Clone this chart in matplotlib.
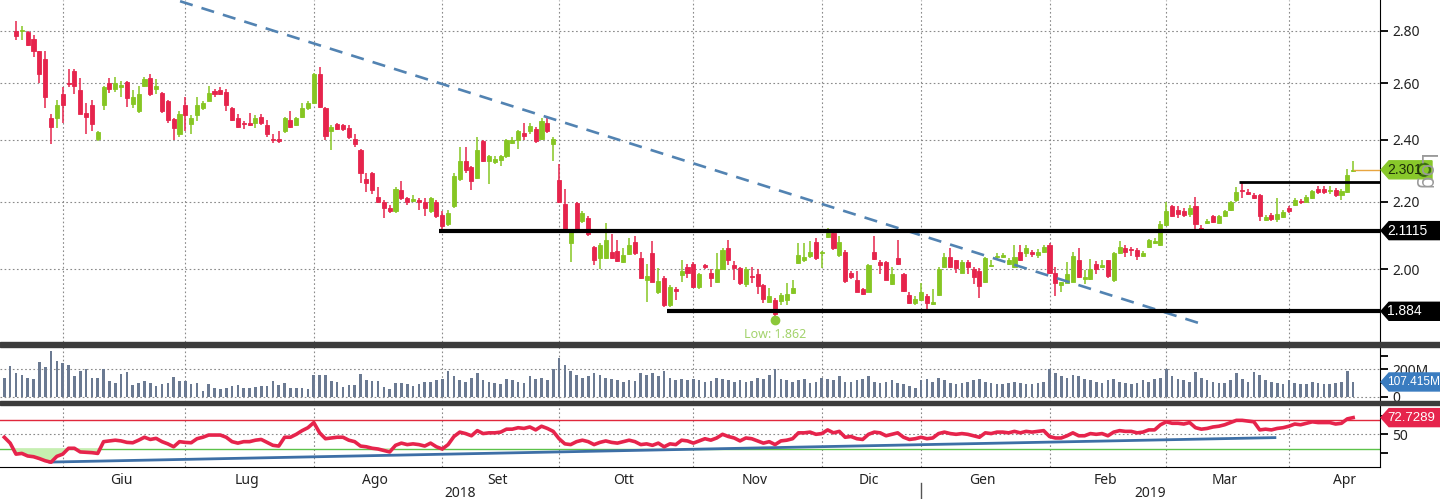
import numpy as np
import pandas as pd
import matplotlib
matplotlib.use("Agg")
import matplotlib.pyplot as plt
from matplotlib.patches import Rectangle, Polygon, Circle
from matplotlib.ticker import FixedLocator, NullLocator, FuncFormatter

plt.rcParams['font.family'] = ['Noto Sans', 'DejaVu Sans']
TAG_FONT = ['Liberation Sans', 'DejaVu Sans']

# trading days (Borsa Italiana closures removed)
holidays = ['2018-08-15', '2018-12-24', '2018-12-25', '2018-12-26', '2018-12-31', '2019-01-01']
dates = pd.bdate_range('2018-05-18', '2019-04-16')
dates = dates[~dates.isin(pd.to_datetime(holidays))]

# open, high, low, close
ohlc_may = [(3.02, 3.05, 2.95, 2.97), (2.97, 3.00, 2.94, 2.95),
            (2.80, 2.84, 2.765, 2.78), (2.80, 2.82, 2.765, 2.805), (2.795, 2.80, 2.74, 2.745),
            (2.77, 2.785, 2.70, 2.72), (2.72, 2.72, 2.60, 2.636), (2.69, 2.72, 2.51, 2.55),
            (2.477, 2.49, 2.385, 2.445), (2.477, 2.54, 2.44, 2.523)]
ohlc_jun = [(2.56, 2.585, 2.46, 2.52), (2.602, 2.655, 2.585, 2.598), (2.645, 2.655, 2.56, 2.59),
            (2.575, 2.62, 2.49, 2.49), (2.495, 2.53, 2.42, 2.48), (2.52, 2.54, 2.43, 2.455),
            (2.405, 2.432, 2.395, 2.427), (2.523, 2.59, 2.505, 2.585), (2.60, 2.62, 2.565, 2.58),
            (2.58, 2.625, 2.57, 2.60), (2.585, 2.61, 2.55, 2.595), (2.605, 2.61, 2.515, 2.545),
            (2.527, 2.575, 2.51, 2.55), (2.50, 2.59, 2.495, 2.56), (2.59, 2.625, 2.585, 2.615),
            (2.618, 2.635, 2.555, 2.56), (2.58, 2.615, 2.56, 2.59), (2.565, 2.57, 2.495, 2.50),
            (2.535, 2.54, 2.46, 2.47), (2.472, 2.477, 2.40, 2.44), (2.42, 2.50, 2.41, 2.49)]
ohlc_jul = [(2.52, 2.55, 2.43, 2.485), (2.455, 2.485, 2.42, 2.475), (2.487, 2.55, 2.465, 2.52),
            (2.51, 2.535, 2.505, 2.53), (2.537, 2.59, 2.535, 2.565), (2.573, 2.58, 2.55, 2.56),
            (2.576, 2.585, 2.556, 2.562), (2.57, 2.58, 2.50, 2.523), (2.51, 2.515, 2.465, 2.47),
            (2.475, 2.49, 2.44, 2.445), (2.46, 2.467, 2.437, 2.455), (2.458, 2.495, 2.447, 2.453),
            (2.46, 2.485, 2.44, 2.477), (2.48, 2.49, 2.452, 2.46), (2.45, 2.47, 2.41, 2.42),
            (2.405, 2.42, 2.39, 2.40), (2.402, 2.43, 2.39, 2.398), (2.43, 2.48, 2.425, 2.475),
            (2.47, 2.50, 2.44, 2.445), (2.45, 2.48, 2.447, 2.475), (2.48, 2.53, 2.475, 2.51),
            (2.51, 2.535, 2.505, 2.53)]
ohlc_aug = [(2.53, 2.64, 2.525, 2.635), (2.635, 2.66, 2.51, 2.515), (2.51, 2.515, 2.40, 2.415),
            (2.43, 2.45, 2.365, 2.445), (2.455, 2.46, 2.435, 2.437), (2.45, 2.455, 2.432, 2.437),
            (2.44, 2.45, 2.405, 2.41), (2.405, 2.42, 2.375, 2.385), (2.365, 2.37, 2.26, 2.29),
            (2.27, 2.29, 2.23, 2.257), (2.29, 2.295, 2.225, 2.235), (2.215, 2.245, 2.195, 2.20),
            (2.20, 2.205, 2.15, 2.18), (2.18, 2.19, 2.165, 2.17), (2.17, 2.245, 2.165, 2.24),
            (2.235, 2.265, 2.205, 2.21), (2.21, 2.215, 2.19, 2.20), (2.203, 2.22, 2.198, 2.207),
            (2.205, 2.21, 2.175, 2.20), (2.20, 2.21, 2.155, 2.18), (2.17, 2.215, 2.165, 2.21),
            (2.20, 2.205, 2.15, 2.155)]
ohlc_sep = [(2.16, 2.17, 2.115, 2.125), (2.13, 2.175, 2.125, 2.165), (2.185, 2.29, 2.18, 2.28),
            (2.27, 2.375, 2.265, 2.33), (2.33, 2.375, 2.29, 2.30), (2.31, 2.315, 2.235, 2.265),
            (2.275, 2.41, 2.27, 2.365), (2.395, 2.40, 2.325, 2.33), (2.33, 2.35, 2.255, 2.345),
            (2.325, 2.345, 2.32, 2.335), (2.333, 2.35, 2.315, 2.345), (2.345, 2.405, 2.34, 2.40),
            (2.39, 2.41, 2.385, 2.40), (2.40, 2.435, 2.37, 2.43), (2.425, 2.46, 2.40, 2.412),
            (2.432, 2.46, 2.42, 2.447), (2.437, 2.445, 2.39, 2.395), (2.405, 2.477, 2.40, 2.467),
            (2.46, 2.475, 2.425, 2.43), (2.385, 2.41, 2.33, 2.405)]
ohlc_oct = [(2.267, 2.32, 2.195, 2.20), (2.193, 2.24, 2.112, 2.115), (2.075, 2.112, 2.02, 2.11),
            (2.195, 2.20, 2.11, 2.115), (2.14, 2.17, 2.135, 2.165), (2.15, 2.155, 2.095, 2.10),
            (2.063, 2.065, 2.01, 2.026), (2.03, 2.075, 2.00, 2.07), (2.03, 2.135, 2.028, 2.083),
            (2.05, 2.10, 2.028, 2.03), (2.052, 2.085, 2.02, 2.024), (2.02, 2.06, 2.018, 2.04),
            (2.043, 2.09, 2.04, 2.07), (2.077, 2.095, 2.04, 2.045), (2.03, 2.05, 1.972, 1.975),
            (1.97, 2.015, 1.91, 1.98), (2.045, 2.08, 1.963, 1.965), (1.935, 2.003, 1.93, 1.967),
            (1.975, 1.98, 1.896, 1.90), (1.90, 1.955, 1.895, 1.95), (1.945, 1.95, 1.915, 1.94),
            (1.983, 2.025, 1.965, 1.995), (2.005, 2.015, 1.975, 1.99)]
ohlc_nov = [(2.015, 2.02, 1.947, 1.95), (1.95, 1.99, 1.945, 1.985), (2.012, 2.015, 2.00, 2.005),
            (1.99, 2.00, 1.95, 1.975), (1.965, 2.045, 1.96, 2.00), (2.00, 2.06, 1.998, 2.055),
            (2.06, 2.083, 2.01, 2.026), (2.01, 2.022, 1.97, 2.004), (2.003, 2.005, 1.955, 1.96),
            (1.957, 2.005, 1.95, 2.00), (1.98, 2.005, 1.96, 1.978), (1.985, 2.00, 1.93, 1.953),
            (1.955, 1.958, 1.905, 1.917), (1.91, 1.947, 1.905, 1.925), (1.915, 1.92, 1.862, 1.878),
            (1.912, 1.932, 1.90, 1.928), (1.915, 1.96, 1.90, 1.93), (1.932, 1.97, 1.93, 1.948),
            (2.018, 2.075, 2.015, 2.04), (2.025, 2.075, 2.02, 2.035), (2.037, 2.08, 2.03, 2.05),
            (2.077, 2.09, 2.025, 2.03)]
ohlc_dec = [(2.045, 2.052, 2.003, 2.05), (2.093, 2.12, 2.09, 2.105), (2.105, 2.11, 2.055, 2.06),
            (2.04, 2.095, 2.033, 2.077), (2.05, 2.055, 1.962, 1.967), (1.99, 1.995, 1.973, 1.977),
            (1.968, 1.995, 1.935, 1.937), (1.945, 1.948, 1.928, 1.93), (1.937, 2.015, 1.935, 2.01),
            (2.05, 2.095, 2.025, 2.028), (2.02, 2.026, 1.985, 2.01), (2.02, 2.023, 1.968, 1.97),
            (1.957, 2.005, 1.955, 1.985), (2.03, 2.085, 2.01, 2.013), (1.986, 1.99, 1.937, 1.94),
            (1.928, 1.935, 1.904, 1.907), (1.905, 1.925, 1.90, 1.918)]
ohlc_jan = [(1.915, 1.96, 1.912, 1.935), (1.925, 1.93, 1.887, 1.905), (1.903, 1.945, 1.90, 1.91),
            (1.928, 2.005, 1.925, 2.00), (2.005, 2.045, 2.003, 2.035), (2.035, 2.06, 2.002, 2.005),
            (2.025, 2.027, 1.99, 2.003), (1.99, 2.027, 1.988, 2.02), (2.02, 2.027, 1.985, 2.005),
            (2.00, 2.005, 1.958, 1.977), (1.995, 2.003, 1.92, 1.953), (1.965, 2.035, 1.962, 2.03),
            (2.008, 2.025, 2.005, 2.012), (2.033, 2.045, 2.025, 2.037), (2.035, 2.045, 2.03, 2.04),
            (2.015, 2.03, 2.01, 2.025), (2.005, 2.07, 2.003, 2.035), (2.05, 2.07, 2.023, 2.026),
            (2.045, 2.07, 2.033, 2.06), (2.05, 2.055, 2.033, 2.042), (2.04, 2.057, 2.03, 2.05),
            (2.05, 2.068, 2.047, 2.063)]
ohlc_feb = [(2.07, 2.075, 1.987, 1.99), (1.99, 2.005, 1.925, 1.96), (1.955, 1.965, 1.935, 1.963),
            (1.96, 2.02, 1.96, 1.985), (1.965, 2.05, 1.963, 2.037), (2.025, 2.06, 1.975, 1.977),
            (1.972, 1.998, 1.958, 1.977), (1.972, 2.028, 1.97, 2.00), (2.015, 2.022, 1.985, 2.00),
            (2.005, 2.025, 2.002, 2.012), (2.025, 2.027, 1.975, 1.98), (1.97, 2.05, 1.965, 2.045),
            (2.045, 2.08, 2.043, 2.063), (2.06, 2.07, 2.035, 2.05), (2.057, 2.063, 2.038, 2.055),
            (2.055, 2.06, 2.027, 2.037), (2.037, 2.053, 2.035, 2.045), (2.063, 2.087, 2.06, 2.083),
            (2.075, 2.09, 2.073, 2.08), (2.07, 2.14, 2.065, 2.13)]
ohlc_mar = [(2.128, 2.20, 2.125, 2.17), (2.185, 2.19, 2.153, 2.157), (2.175, 2.185, 2.15, 2.163),
            (2.17, 2.18, 2.153, 2.16), (2.163, 2.19, 2.153, 2.18), (2.185, 2.215, 2.115, 2.132),
            (2.12, 2.127, 2.11, 2.115), (2.133, 2.145, 2.13, 2.14), (2.155, 2.158, 2.133, 2.137),
            (2.135, 2.16, 2.13, 2.155), (2.155, 2.175, 2.153, 2.17), (2.175, 2.203, 2.172, 2.20),
            (2.205, 2.245, 2.20, 2.23), (2.237, 2.257, 2.212, 2.232), (2.23, 2.24, 2.22, 2.225),
            (2.22, 2.227, 2.207, 2.212), (2.22, 2.225, 2.14, 2.155), (2.142, 2.16, 2.14, 2.152),
            (2.16, 2.165, 2.14, 2.145), (2.145, 2.21, 2.137, 2.162), (2.153, 2.175, 2.15, 2.168)]
ohlc_apr = [(2.18, 2.185, 2.165, 2.17), (2.19, 2.21, 2.185, 2.205), (2.203, 2.208, 2.193, 2.198),
            (2.20, 2.22, 2.197, 2.213), (2.21, 2.237, 2.207, 2.232), (2.24, 2.25, 2.225, 2.23),
            (2.238, 2.248, 2.225, 2.23), (2.233, 2.25, 2.225, 2.235), (2.235, 2.242, 2.215, 2.22),
            (2.22, 2.24, 2.205, 2.232), (2.23, 2.305, 2.227, 2.285), (2.298, 2.33, 2.295, 2.301)]

# volume, millions
vol_may = [136, 222, 173, 160, 136, 128, 252, 215, 333, 264]
vol_jun = [247, 229, 148, 185, 202, 136, 136, 202, 116, 99, 168, 180, 86, 99, 111, 99, 79, 94, 99, 143, 116]
vol_jul = [111, 94, 99, 42, 91, 62, 54, 62, 79, 86, 62, 62, 69, 79, 79, 118, 86, 99, 62, 62, 62, 54]
vol_aug = [155, 160, 160, 116, 104, 69, 86, 86, 168, 123, 111, 118, 69, 54, 99, 100, 95, 80, 90, 110, 105, 120]
vol_sep = [130, 190, 150, 120, 110, 140, 170, 120, 110, 100, 95, 130, 120, 110, 100, 150, 130, 140, 120, 200]
vol_oct = [280, 230, 190, 160, 140, 150, 170, 160, 140, 130, 120, 110, 120, 115, 170, 160, 170, 150, 190, 140,
           120, 130, 120]
vol_nov = [130, 120, 110, 115, 140, 130, 120, 110, 120, 110, 115, 140, 130, 160, 200, 130, 120, 110, 120, 130,
           100, 110]
vol_dec = [140, 130, 120, 150, 110, 105, 120, 130, 150, 110, 100, 110, 120, 100, 90, 80, 60]
vol_jan = [120, 130, 110, 140, 120, 100, 90, 100, 110, 120, 130, 110, 100, 90, 95, 100, 110, 100, 95, 90, 100, 105]
vol_feb = [200, 170, 150, 140, 160, 150, 130, 120, 110, 100, 120, 130, 110, 100, 95, 100, 120, 110, 130, 140]
vol_mar = [200, 150, 130, 120, 110, 180, 140, 120, 110, 100, 100, 120, 170, 130, 110, 180, 160, 120, 110, 100, 90]
vol_apr = [120, 100, 90, 95, 110, 100, 95, 90, 100, 110, 190, 107.415]

# RSI
rsi_may = [46, 38, 23, 24, 20.5, 19.5, 17, 14, 12, 20]
rsi_jun = [23, 31, 31, 26, 25.5, 25, 24, 40, 41, 42, 41, 39, 38.5, 42, 46, 43, 44.5, 40, 37, 33, 40]
rsi_jul = [39, 38.5, 44, 46, 49, 49, 49, 46, 40, 38, 40, 40, 42, 43, 39, 35, 34, 46, 46, 50, 55, 59]
rsi_aug = [66, 52, 44, 45, 46, 46, 42, 40, 34, 33, 31, 30, 28, 26, 35, 38, 36, 37, 36, 34, 38, 33]
rsi_sep = [30, 36, 47, 53, 51, 48, 55, 51, 52, 52, 53, 57, 57, 59, 58, 60, 56, 61, 58, 54]
rsi_oct = [44, 37, 36, 40, 42, 40, 36, 39, 41, 39, 38, 40, 42, 40, 36, 37, 35, 38, 33, 37, 36, 42, 41]
rsi_nov = [38, 41, 44, 42, 45, 50, 47, 45, 41, 45, 44, 41, 38, 40, 36, 41, 42, 44, 52, 52, 53, 50]
rsi_dec = [51, 56, 52, 54, 46, 47, 44, 43, 50, 53, 52, 48, 50, 52, 46, 43, 44]
rsi_jan = [46, 44, 45, 51, 53, 51, 50, 51, 50, 48, 46, 52, 51, 53, 53, 52, 54, 52, 54, 53, 54, 55]
rsi_feb = [47, 45, 45, 48, 52, 48, 48, 51, 50, 51, 48, 53, 55, 54, 54, 52, 53, 56, 56, 63]
rsi_mar = [67, 65, 65, 64, 66, 59, 57, 58, 60, 61, 63, 66, 69, 69, 68, 67, 56, 57, 56, 58, 59]
rsi_apr = [61, 64, 63, 65, 67, 66, 66, 66, 64, 65, 71, 72.7289]

month_names = ['Giu', 'Lug', 'Ago', 'Set', 'Ott', 'Nov', 'Dic', 'Gen', 'Feb', 'Mar', 'Apr']
price_ticks = [2.0, 2.2, 2.4, 2.6, 2.8]
levels = [2.1115, 1.884, 2.262]          # drawn support / resistance
level_start = ['2018-09-03', '2018-10-26', '2019-03-20']
trend_price = [(30.1, 2.92), (205.6, 1.848)]
trend_rsi = [(7.8, 12.2), (217.6, 45.5)]
last_price = 2.301
low_price = 1.862

ohlc = np.array(ohlc_may + ohlc_jun + ohlc_jul + ohlc_aug + ohlc_sep + ohlc_oct + ohlc_nov
                + ohlc_dec + ohlc_jan + ohlc_feb + ohlc_mar + ohlc_apr)
op, hi, lo, cl = ohlc.T
vol = np.array(vol_may + vol_jun + vol_jul + vol_aug + vol_sep + vol_oct + vol_nov + vol_dec
               + vol_jan + vol_feb + vol_mar + vol_apr) * 1e6
rsi = np.array(rsi_may + rsi_jun + rsi_jul + rsi_aug + rsi_sep + rsi_oct + rsi_nov + rsi_dec
               + rsi_jan + rsi_feb + rsi_mar + rsi_apr)
x = np.arange(len(dates))

GREEN, RED = '#86c623', '#e6244c'
cols = np.where(cl >= op, GREEN, RED)

W, H = 1440, 499
fig = plt.figure(figsize=(W / 100, H / 100), dpi=100)


def rect(top, bottom):
    return [0, (H - bottom) / H, 1380 / W, (bottom - top) / H]


ax = fig.add_axes(rect(0, 342))
ax_v = fig.add_axes(rect(347, 402), sharex=ax)
ax_r = fig.add_axes(rect(405, 467), sharex=ax)
xmin, xmax = -0.74, 235.6

grid_kw = dict(color='#8a8a8a', lw=0.8, ls=(0, (1.5, 2.2)))

per = dates.to_period('M')
months = per.unique()[1:]
starts = np.array([np.argmax(per == p) for p in months])
ndays = np.array([(per == p).sum() for p in months])
ndays[-1] = len(pd.bdate_range('2019-04-01', '2019-04-30')) - 2
centers = starts + ndays / 2 - 0.5

for a in (ax, ax_v, ax_r):
    a.set_xlim(xmin, xmax)
    for s in starts:
        a.axvline(s, zorder=0, **grid_kw)
    for sp in ('top', 'left', 'bottom'):
        a.spines[sp].set_visible(False)
    a.spines['right'].set_color('black')
    a.yaxis.tick_right()
    a.tick_params(axis='y', direction='out', length=6, width=1.3, pad=3, labelsize=10,
                  labelcolor='#222222')
    a.tick_params(axis='x', length=0, labelbottom=False)

# --- price panel
ax.set_yscale('log')
ax.set_ylim(1.804, 2.925)
ax.yaxis.set_major_locator(FixedLocator(price_ticks))
ax.yaxis.set_minor_locator(NullLocator())
ax.yaxis.set_major_formatter(FuncFormatter(lambda v, p: f'{v:.2f}'))
for t in price_ticks:
    ax.axhline(t, zorder=0, **grid_kw)

ax.vlines(x, lo, hi, color=cols, lw=1.1, zorder=2)
ax.bar(x, cl - op, bottom=op, width=0.7, color=cols, edgecolor=cols, lw=0.6, zorder=3)

ax.plot([p[0] for p in trend_price], [p[1] for p in trend_price], color='#5283b2', lw=1.9,
        ls=(0, (5, 3.5)), zorder=4)
for lev, start, w in zip(levels, level_start, [3, 3, 2]):
    k = dates.get_loc(pd.Timestamp(start))
    ax.hlines(lev, k - 0.5, xmax, color='black', lw=w, zorder=5)
ax.hlines(last_price, x[-1], xmax, color='#e8a540', lw=1, zorder=5)

k_low = int(np.argmin(lo))
ax.plot(k_low, low_price, 'o', color='#8cc83a', ms=6, zorder=6)
ax.annotate(f'Low: {low_price}', (k_low, low_price), xytext=(0, -6), textcoords='offset points',
            ha='center', va='top', color='#a3d36c', fontsize=9)

# --- volume panel
ax_v.set_ylim(-39e6, 363e6)
ax_v.bar(x, vol, width=0.45, color='#6b7a92', zorder=2)
ax_v.yaxis.set_major_locator(FixedLocator([0, 100e6, 200e6, 300e6]))
ax_v.yaxis.set_major_formatter(FuncFormatter(lambda v, p: {0: '0', 200: '200M'}.get(int(round(v / 1e6)), '')))
for t in (0, 200e6):
    ax_v.axhline(t, zorder=0, **grid_kw)

# --- RSI panel
ax_r.set_ylim(5.5, 89.9)
ax_r.spines['bottom'].set_visible(True)
ax_r.spines['bottom'].set_color('black')
ax_r.yaxis.set_major_locator(FixedLocator([25, 50, 75]))
ax_r.yaxis.set_major_formatter(FuncFormatter(lambda v, p: '50' if v == 50 else ''))
ax_r.axhline(50, zorder=0, **grid_kw)
ax_r.axhline(70, color='#e0283c', lw=1, zorder=1)
ax_r.axhline(30, color='#5cc24a', lw=1, zorder=1)
ax_r.fill_between(x, rsi, 30, where=rsi < 30, interpolate=True, color='#c6efb0', zorder=1)
ax_r.plot([p[0] for p in trend_rsi], [p[1] for p in trend_rsi], color='#3d6fa6', lw=2, zorder=2)
ax_r.plot(x, rsi, color=RED, lw=2.6, zorder=3)

ax_r.set_xticks(centers)
ax_r.set_xticklabels(month_names)
ax_r.tick_params(axis='x', length=0, labelbottom=True, pad=4, labelsize=10, labelcolor='#222222')
xt = ax_r.get_xaxis_transform()
k_year = starts[month_names.index('Gen')]
ax_r.text((xmin + k_year) / 2, -0.42, '2018', transform=xt, ha='center', va='center', fontsize=10,
          color='#222222')
ax_r.text((k_year + xmax) / 2, -0.42, '2019', transform=xt, ha='center', va='center', fontsize=10,
          color='#222222')
ax_r.plot([k_year, k_year], [-0.26, -0.55], transform=xt, color='#555555', lw=1, clip_on=False)

# --- overlay: panel separators and value tags
ov = fig.add_axes([0, 0, 1, 1], facecolor='none')
ov.set_xlim(0, W)
ov.set_ylim(0, H)
ov.axis('off')
ov.add_patch(Rectangle((0, H - 347), W, 5, color='#3c3c3c'))
ov.add_patch(Rectangle((0, H - 405), W, 4, color='#3c3c3c'))


def tag(a, value, text, fc, tc, right=W, size=10):
    y = a.transData.transform((0, value))[1]
    ov.add_patch(Polygon([(1381, y), (1389, y + 9), (right, y + 9), (right, y - 9), (1389, y - 9)],
                         closed=True, facecolor=fc, edgecolor=fc))
    ov.text(1387, y, text, color=tc, fontsize=size, va='center', ha='left', family=TAG_FONT)
    return y


y_last = tag(ax, last_price, f'{last_price}', '#88c82a', '#1c2c08', right=1432)
tag(ax, levels[0], f'{levels[0]}', 'black', 'white')
tag(ax, levels[1], f'{levels[1]}', 'black', 'white')
tag(ax_v, vol[-1], f'{vol[-1] / 1e6:.3f}M', '#3a7cc0', 'white', size=8.6)
tag(ax_r, rsi[-1], f'{rsi[-1]}', RED, 'white', size=9.5)
ov.add_patch(Circle((1424, y_last), 6, facecolor='none', edgecolor='#3d6e12', lw=1.6))
ov.text(1424, y_last - 2, 'Log', rotation=-90, color='#9a9a9a', fontsize=15, ha='center', va='center')

fig.savefig('out.png', dpi=100)
